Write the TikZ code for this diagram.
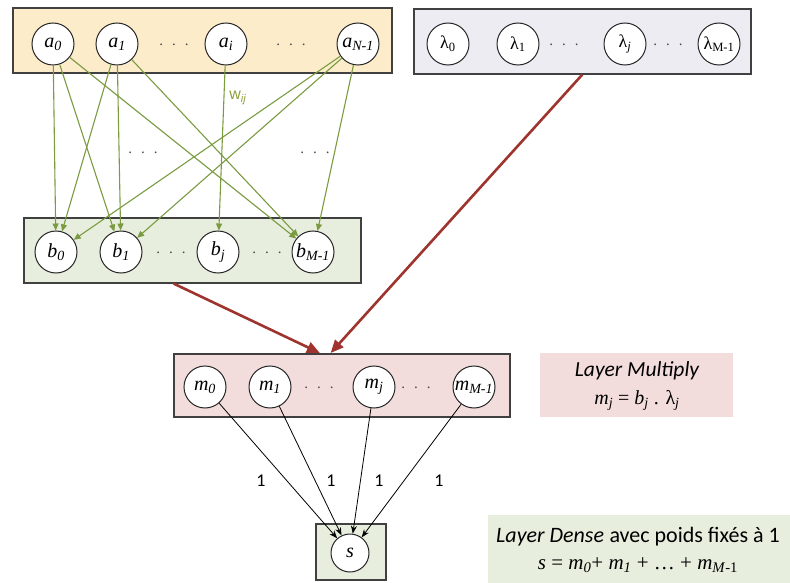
\documentclass[tikz,border=0pt]{standalone}
\usepackage{fontspec}
\setmainfont{Liberation Serif}
\newfontfamily\calfont{Carlito}
\newfontfamily\arialfont{Liberation Sans}
\usetikzlibrary{arrows.meta,calc}
\definecolor{boxA}{RGB}{253,236,202}
\definecolor{boxL}{RGB}{238,236,243}
\definecolor{boxG}{RGB}{232,238,222}
\definecolor{boxM}{RGB}{242,221,220}
\definecolor{edgeG}{RGB}{122,155,66}
\definecolor{edgeR}{RGB}{158,52,45}
\definecolor{wcol}{RGB}{140,160,60}
\newcommand{\vlbl}[2]{\textit{#1}\textsubscript{\textit{#2}}}
\newcommand{\tdots}{.\hspace{9pt}.\hspace{9pt}.}
\begin{document}
\begin{tikzpicture}[x=1pt,y=-1pt,
  layerbox/.style={draw=black!75, line width=1.6pt, inner sep=0pt, anchor=north west},
  labelbox/.style={inner sep=0pt, anchor=north west, align=center},
  neuron/.style={circle, draw=black!85, fill=white, line width=1pt, minimum size=42pt, inner sep=0pt, font=\fontsize{20}{21}\selectfont},
  lneuron/.style={neuron, font=\fontsize{18}{19}\selectfont},
  dotsnode/.style={inner sep=0pt, text=black!70, font=\fontsize{15}{16}\selectfont},
  gedge/.style={draw=edgeG, line width=1.1pt, -{Triangle[length=7pt,width=6pt]}},
  redge/.style={draw=edgeR, line width=2.6pt, -{Triangle[length=13pt,width=11pt]}},
  kedge/.style={draw=black, line width=0.8pt, -{Stealth[length=8pt,width=6pt]}},
  onelbl/.style={inner sep=0pt, font=\calfont\fontsize{18}{19}\selectfont}
]
\useasboundingbox (0,0) rectangle (790,583);

% layer boxes
\node[layerbox, fill=boxA, minimum width=379pt, minimum height=65pt] (abox) at (12,7) {};
\node[layerbox, fill=boxL, minimum width=337pt, minimum height=65pt] (lbox) at (413,8) {};
\node[layerbox, fill=boxG, minimum width=337pt, minimum height=65pt] (bbox) at (23,217) {};
\node[layerbox, fill=boxM, minimum width=336pt, minimum height=63pt] (mbox) at (173,353) {};
\node[layerbox, fill=boxG, minimum width=70pt, minimum height=56pt] (sbox) at (315,523) {};

% label boxes
\node[labelbox, fill=boxM, minimum width=193pt, minimum height=64pt] (mlbl) at (540,353) {};
\node[align=center, inner sep=0pt, font=\fontsize{21.5}{28}\selectfont] (mtxt) at (637,386)
  {{\calfont\itshape Layer Multiply}\\ {\fontsize{20}{28}\selectfont\vlbl{m}{j} = \vlbl{b}{j} . λ\textsubscript{\textit{j}}}};
\node[labelbox, fill=boxG, minimum width=310pt, minimum height=70pt] (slbl) at (488,515) {};
\node[align=center, inner sep=0pt, font=\fontsize{22}{27}\selectfont] (stxt) at (638,550)
  {{\calfont\itshape Layer Dense} {\calfont avec poids fixés à 1}\\
   {\fontsize{21}{27}\selectfont\textit{s} = \vlbl{m}{0}+ \vlbl{m}{1} + … + \textit{m}\textsubscript{\textit{M}-1}}};

% input neurons
\node[neuron] (a0) at (53,44) {\vlbl{a}{0}};
\node[neuron] (a1) at (117,44) {\vlbl{a}{1}};
\node[neuron] (ai) at (226,44) {\vlbl{a}{i}};
\node[neuron] (aN) at (358,44) {\vlbl{a}{N-1}};
\node[dotsnode] (ad1) at (174,45) {\tdots};
\node[dotsnode] (ad2) at (291,45) {\tdots};

% lambda neurons
\node[lneuron] (l0) at (448,44) {λ\textsubscript{0}};
\node[lneuron] (l1) at (518,44) {λ\textsubscript{1}};
\node[lneuron] (lj) at (625,44) {λ\textsubscript{\textit{j}}};
\node[lneuron] (lM) at (719,44) {\hspace*{-4pt}λ\textsubscript{M-1}\hspace*{-4pt}};
\node[dotsnode] (ld1) at (564,45) {\tdots};
\node[dotsnode] (ld2) at (668,45) {\tdots};

% b neurons
\node[neuron] (b0) at (56,252) {\vlbl{b}{0}};
\node[neuron] (b1) at (121,252) {\vlbl{b}{1}};
\node[neuron] (bj) at (218,252) {\vlbl{b}{j}};
\node[neuron] (bM) at (313,252) {\vlbl{b}{M-1}};
\node[dotsnode] (bd1) at (171,253) {\tdots};
\node[dotsnode] (bd2) at (267,253) {\tdots};

% m neurons
\node[neuron] (m0) at (205,387) {\vlbl{m}{0}};
\node[neuron] (m1) at (270,387) {\vlbl{m}{1}};
\node[neuron] (mj) at (374,387) {\vlbl{m}{j}};
\node[neuron] (mM) at (474,387) {\vlbl{m}{M-1}};
\node[dotsnode] (md1) at (319,388) {\tdots};
\node[dotsnode] (md2) at (416,388) {\tdots};

% output neuron
\node[neuron, minimum size=38pt] (s) at (350,553) {\textit{s}};

% dense weights a -> b
\foreach \src in {a0,a1,aN}{
  \foreach \dst in {b0,b1,bM}{
    \draw[gedge] (\src) -- (\dst);
  }
}
\draw[gedge] (ai) -- (bj);
\node[inner sep=0pt, text=wcol, font=\arialfont\fontsize{16}{17}\selectfont] (w) at (238,98) {w\textsubscript{\textit{ij}}};
\node[dotsnode] (cd1) at (143,153) {\tdots};
\node[dotsnode] (cd2) at (315,153) {\tdots};

% red arrows
\coordinate (bout) at ($(bbox.south west)!0.445!(bbox.south east)$);
\coordinate (min1) at ($(mbox.north west)!0.435!(mbox.north east)$);
\coordinate (min2) at ($(mbox.north west)!0.467!(mbox.north east)$);
\draw[redge] (bout) -- (min1);
\draw[redge] (lbox.south) -- (min2);

% sum connections
\draw[kedge] (m0) -- (s);
\draw[kedge] (m1) -- (s);
\draw[kedge] (mj) -- (s);
\draw[kedge] (mM) -- (s);
\node[onelbl] (w1) at (261,481) {1};
\node[onelbl] (w2) at (331,481) {1};
\node[onelbl] (w3) at (379,481) {1};
\node[onelbl] (w4) at (439,481) {1};
\end{tikzpicture}
\end{document}
